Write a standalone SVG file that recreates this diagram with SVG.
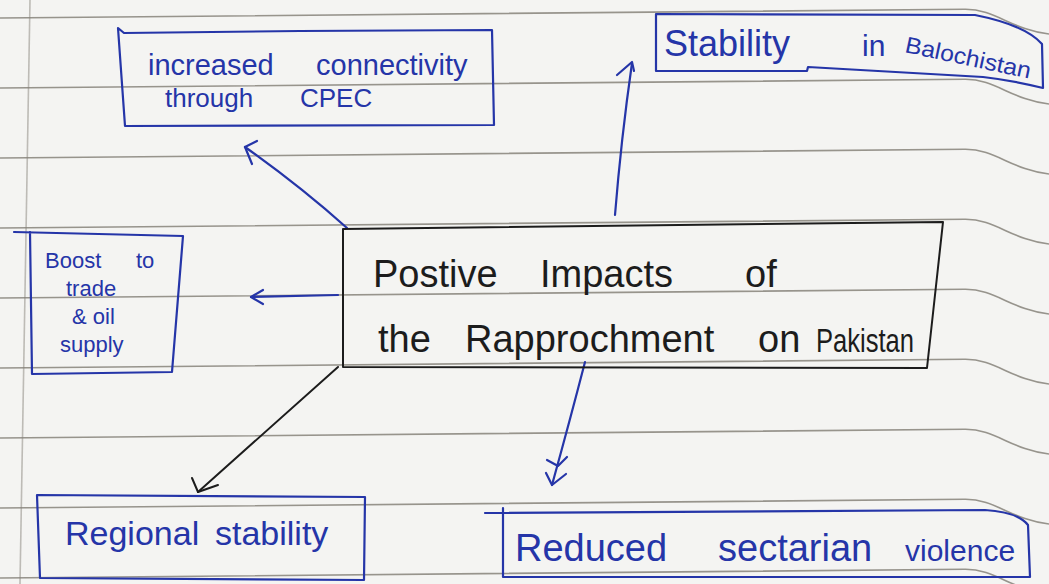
<svg xmlns="http://www.w3.org/2000/svg" width="1049" height="584" viewBox="0 0 1049 584">
<style>
.paper{fill:#f4f4f2}
.rule{fill:none;stroke:#86827a;stroke-width:1.6;opacity:.85}
.blue{fill:none;stroke:#2535a8;stroke-width:2.2;stroke-linejoin:round;stroke-linecap:round}
.black{fill:none;stroke:#1c1c1c;stroke-width:2;stroke-linejoin:round;stroke-linecap:round}
.tb{font-family:"Liberation Sans",Arial,sans-serif;fill:#2535a8}
.tk{font-family:"Liberation Sans",Arial,sans-serif;fill:#1c1c1c}
</style>
<rect class="paper" x="0" y="0" width="1049" height="584"/>
<g id="paper-rules">
<path class="rule" d="M0,18 L965,9.3 C995,9 1012,30 1049,34"/>
<path class="rule" d="M0,88 L965,79.3 C995,79 1012,100 1049,104"/>
<path class="rule" d="M0,158 L965,149.3 C995,149 1012,170 1049,174"/>
<path class="rule" d="M0,228 L965,219.3 C995,219 1012,240 1049,244"/>
<path class="rule" d="M0,298 L965,289.3 C995,289 1012,310 1049,314"/>
<path class="rule" d="M0,368 L965,359.3 C995,359 1012,380 1049,384"/>
<path class="rule" d="M0,438 L965,429.3 C995,429 1012,450 1049,454"/>
<path class="rule" d="M0,508 L965,499.3 C995,499 1012,520 1049,524"/>
<path class="rule" d="M0,578 L965,569.3 C995,569 1012,590 1049,594"/>
<path class="rule" d="M30,0 L20,584" style="opacity:.5"/>
</g>
<g id="connectors">
<path class="blue" d="M347,228 Q300,186 245,147"/>
<path class="blue" d="M257,141 L245,147 L252,164"/>
<path class="blue" d="M615,215 Q621,140 632,63"/>
<path class="blue" d="M617,75 L632,62 L634,71"/>
<path class="blue" d="M338,295 L251,297"/>
<path class="blue" d="M263,290 L251,297 L263,304"/>
<path class="black" d="M338,367 L198,492"/>
<path class="black" d="M192,478 L198,492 L218,485"/>
<path class="blue" d="M585,362 Q570,420 552,485"/>
<path class="blue" d="M547,460 L558,466 L567,457"/>
<path class="blue" d="M546,473 L552,485 L566,474"/>
</g>
<g id="node-center">
<path class="black" d="M343,229 L943,222 L927,368 L343,367 Z"/>
<text class="tk" font-size="38" y="287"><tspan x="373">Postive</tspan><tspan x="540">Impacts</tspan><tspan x="745">of</tspan></text>
<text class="tk" font-size="38" y="352"><tspan x="378">the</tspan><tspan x="465">Rapprochment</tspan><tspan x="758">on</tspan><tspan x="816" font-size="34" textLength="98" lengthAdjust="spacingAndGlyphs">Pakistan</tspan></text>
</g>
<g id="node-cpec">
<path class="blue" d="M118,28 L124,33 L300,31 L492,30 L494,125 L125,126 Z"/>
<text class="tb" font-size="29" y="75"><tspan x="148">increased</tspan><tspan x="316">connectivity</tspan></text>
<text class="tb" font-size="26" y="107"><tspan x="165">through</tspan><tspan x="300">CPEC</tspan></text>
</g>
<g id="node-balochistan">
<path class="blue" d="M656,14 L975,15 Q1025,25 1042,44 L1043,88 Q1010,80 983,77 L808,67 L807,71 L656,71 Z"/>
<text class="tb" font-size="36" y="56"><tspan x="664">Stability</tspan><tspan x="862" font-size="30">in</tspan></text>
<text class="tb" font-size="23" x="904" y="52" transform="rotate(12 904 52)" textLength="128" lengthAdjust="spacingAndGlyphs">Balochistan</text>
</g>
<g id="node-trade">
<path class="blue" d="M14,232 L183,236 L172,372 L32,374 L30,232"/>
<text class="tb" font-size="22" y="268"><tspan x="45">Boost</tspan><tspan x="136">to</tspan></text>
<text class="tb" font-size="22" x="66" y="296">trade</text>
<text class="tb" font-size="22" x="72" y="324">&amp; oil</text>
<text class="tb" font-size="22" x="60" y="352">supply</text>
</g>
<g id="node-regional">
<path class="blue" d="M37,495 L365,497 L364,580 L40,578 Z"/>
<text class="tb" font-size="34" y="545"><tspan x="65">Regional</tspan><tspan x="215">stability</tspan></text>
</g>
<g id="node-sectarian">
<path class="blue" d="M485,513 L985,510 Q1018,512 1028,525 L1030,577 L503,577 L503,508"/>
<text class="tb" font-size="38" y="561"><tspan x="515">Reduced</tspan><tspan x="718">sectarian</tspan><tspan x="905" font-size="30">violence</tspan></text>
</g>
</svg>
